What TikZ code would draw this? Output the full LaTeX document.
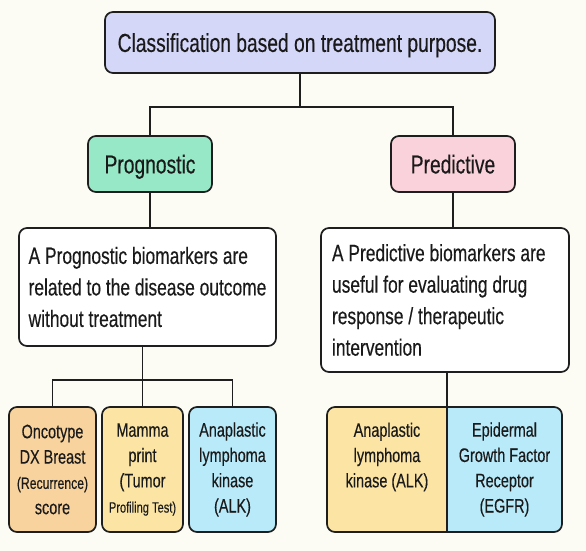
\documentclass[tikz,border=0pt]{standalone}
\usepackage{fontspec}
\setmainfont{Liberation Sans}[FakeStretch=0.74,FakeBold=0.3]
\definecolor{bgc}{HTML}{FCFCF5}
\definecolor{linec}{HTML}{1E1E1E}
\definecolor{textc}{HTML}{1A1A1A}
\definecolor{lav}{HTML}{D4D7F7}
\definecolor{mint}{HTML}{96E8C6}
\definecolor{pinkc}{HTML}{F9D2DB}
\definecolor{orangec}{HTML}{F8D39D}
\definecolor{yelc}{HTML}{FBE4A4}
\definecolor{bluec}{HTML}{B8EAFA}
\begin{document}
\begin{tikzpicture}[x=1pt,y=-1pt,line width=1.7pt,
  box/.style={draw=linec, rounded corners=8pt, inner sep=0pt, text=textc},
  big/.style={font=\fontsize{26}{30}\selectfont, text depth=0pt},
  desc/.style={font=\fontsize{23.5}{31.5}\selectfont, align=flush left},
  small/.style={font=\fontsize{19.5}{25.3}\selectfont, align=center},
  txt/.style={inner sep=0pt, text=textc, font=\fontsize{19.5}{25.3}\selectfont, align=center},
  conn/.style={draw=linec, line width=1.7pt}]
\fill[bgc] (0,0) rectangle (586,551);
\useasboundingbox (0,0) rectangle (586,551);
% top levels
\node[box, big, fill=lav, minimum width=390pt, minimum height=61pt] (top) at (300,42.5) {Classification based on treatment purpose.};
\node[box, big, fill=mint, minimum width=124pt, minimum height=56pt] (prog) at (150,164) {Prognostic};
\node[box, big, fill=pinkc, minimum width=124pt, minimum height=56pt] (pred) at (453,164) {Predictive};
% descriptions
\node[box, desc, fill=white, minimum width=257pt, minimum height=118pt] (ldesc) at (147.5,287) {A Prognostic biomarkers are\\related to the disease outcome\\without treatment};
\node[box, desc, fill=white, text width=226pt, minimum width=248pt, minimum height=144pt] (rdesc) at (445,300) {A Predictive biomarkers are\\useful for evaluating drug\\response / therapeutic\\intervention};
% bottom left boxes
\node[box, small, fill=orangec, minimum width=87pt, minimum height=125pt] (b1) at (52.5,469.5) {Oncotype\\DX Breast\\{\fontsize{16.5}{25.3}\selectfont (Recurrence)}\\score};
\node[box, small, fill=yelc, minimum width=81pt, minimum height=125pt] (b2) at (142.5,469.5) {Mamma\\print\\(Tumor\\{\fontsize{15}{25.3}\selectfont Profiling Test)}};
\node[box, small, fill=bluec, minimum width=87pt, minimum height=125pt] (b3) at (232.5,469.5) {Anaplastic\\lymphoma\\kinase\\(ALK)};
% bottom right combined box
\begin{scope}
\clip[rounded corners=8pt] (327,407) rectangle (562,532);
\fill[yelc] (327,407) rectangle (447,532);
\fill[bluec] (447,407) rectangle (562,532);
\end{scope}
\node[box, minimum width=235pt, minimum height=125pt] (combo) at (444.5,469.5) {};
\coordinate (div) at (447,407);
\draw[conn] (div) -- (div |- combo.south);
\node[txt] (alkR) at (387,457) {Anaplastic\\lymphoma\\kinase (ALK)};
\node[txt] (egfr) at (504.5,469.5) {Epidermal\\Growth Factor\\Receptor\\(EGFR)};
% connectors
\coordinate (j1) at (300,107);
\draw[conn] (top.south) -- (j1);
\draw[conn] (prog.north) |- (j1) -| (pred.north);
\draw[conn] (prog.south) -- (prog.south |- ldesc.north);
\draw[conn] (pred.south) -- (pred.south |- rdesc.north);
\coordinate (j2) at (142.5,380);
\draw[conn] (ldesc.south -| j2) -- (j2);
\draw[conn] (b1.north) |- (j2) -| (b3.north);
\draw[conn] (j2) -- (b2.north);
\draw[conn] (rdesc.south -| div) -- (div);
\end{tikzpicture}
\end{document}
